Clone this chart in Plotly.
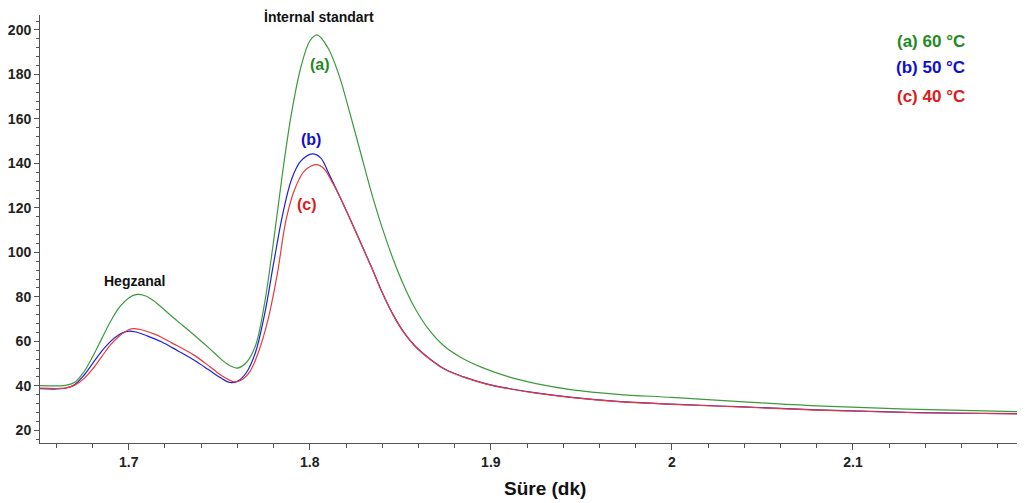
import plotly.graph_objects as go

# Retention time (min) and detector response for each temperature
x_a = [1.651, 1.665, 1.670, 1.675, 1.680, 1.685, 1.690, 1.695, 1.700, 1.704, 1.709, 1.715,
       1.722, 1.730, 1.738, 1.745, 1.751, 1.756, 1.760, 1.765, 1.770, 1.775, 1.780, 1.785,
       1.790, 1.795, 1.800, 1.804, 1.810, 1.816, 1.822, 1.828, 1.834, 1.840, 1.846, 1.852,
       1.858, 1.866, 1.874, 1.884, 1.895, 1.910, 1.925, 1.945, 1.970, 2.000, 2.040, 2.080,
       2.130, 2.195]
y_a = [40.1, 40.2, 41.5, 46.0, 53.0, 61.0, 69.0, 75.5, 79.5, 81.0, 80.5, 77.5,
       72.5, 67.0, 61.5, 56.5, 52.0, 49.0, 48.0, 50.5, 58.0, 77.0, 105.0, 136.0,
       163.0, 183.0, 195.0, 197.8, 192.0, 180.0, 163.0, 145.0, 127.0, 111.0, 97.0, 85.0,
       75.0, 65.0, 58.0, 52.5, 48.3, 44.0, 41.0, 38.2, 36.2, 34.8, 32.8, 31.0,
       29.5, 28.3]

x_b = [1.651, 1.665, 1.670, 1.675, 1.680, 1.685, 1.690, 1.695, 1.699, 1.704, 1.710, 1.718,
       1.727, 1.736, 1.744, 1.750, 1.756, 1.760, 1.765, 1.770, 1.775, 1.780, 1.785, 1.790,
       1.795, 1.8015, 1.806, 1.811, 1.816, 1.822, 1.828, 1.834, 1.840, 1.846, 1.852, 1.858,
       1.866, 1.875, 1.885, 1.897, 1.910, 1.925, 1.945, 1.970, 2.000, 2.040, 2.080, 2.130,
       2.195]
y_b = [38.7, 38.9, 40.5, 44.5, 50.0, 55.5, 60.0, 63.2, 64.5, 64.2, 62.5, 59.8,
       55.8, 51.6, 47.3, 44.0, 41.5, 42.0, 46.0, 55.0, 72.0, 95.0, 117.0, 133.0,
       141.0, 144.3, 142.5, 134.5, 126.0, 115.5, 104.5, 93.5, 82.0, 72.0, 64.0, 58.0,
       52.3, 47.3, 44.0, 41.0, 38.8, 36.8, 34.8, 33.0, 31.8, 30.5, 29.2, 28.1,
       27.5]

x_c = [1.651, 1.665, 1.670, 1.675, 1.680, 1.685, 1.690, 1.695, 1.700, 1.703, 1.708, 1.715,
       1.724, 1.736, 1.745, 1.752, 1.758, 1.762, 1.767, 1.772, 1.777, 1.782, 1.787, 1.792,
       1.797, 1.8035, 1.808, 1.8114, 1.816, 1.822, 1.828, 1.834, 1.840, 1.846, 1.852, 1.858,
       1.866, 1.875, 1.885, 1.897, 1.910, 1.925, 1.945, 1.970, 2.000, 2.040, 2.080, 2.130,
       2.195]
y_c = [39.0, 39.0, 40.2, 43.0, 47.5, 53.0, 58.5, 62.5, 65.2, 65.7, 65.0, 63.0,
       59.2, 53.8, 48.5, 44.2, 41.8, 42.5, 46.5, 56.0, 70.0, 90.0, 115.0, 129.0,
       136.5, 139.4, 137.5, 133.0, 126.0, 115.4, 104.4, 93.4, 81.9, 71.9, 63.9, 57.9,
       52.2, 47.2, 43.9, 40.9, 38.7, 36.7, 34.7, 32.9, 31.7, 30.4, 29.1, 28.0,
       27.4]

series_names = ["(a) 60 °C", "(b) 50 °C", "(c) 40 °C"]
line_colors = ["#3c9a3c", "#2020d8", "#e83a3a"]
text_colors = ["#1f8a1f", "#1010cc", "#dd1a1a"]

x_ticks = [1.7, 1.8, 1.9, 2.0, 2.1]
x_tick_labels = ["1.7", "1.8", "1.9", "2", "2.1"]
y_ticks = [20, 40, 60, 80, 100, 120, 140, 160, 180, 200]
x_title = "Süre (dk)"

font_fam = "Liberation Sans, Arial, sans-serif"

fig = go.Figure()
for xs, ys, nm, col in zip([x_a, x_b, x_c], [y_a, y_b, y_c], series_names, line_colors):
    fig.add_trace(go.Scatter(x=xs, y=ys, mode="lines", name=nm,
                             line=dict(color=col, width=1.2, shape="spline", smoothing=1.0)))

anns = [
    dict(x=1.805, y=205.8, text="İnternal standart", color="#111111", size=14),
    dict(x=1.7032, y=87.2, text="Hegzanal", color="#111111", size=14),
    dict(x=1.8054, y=184.3, text="(a)", color=text_colors[0], size=16),
    dict(x=1.8004, y=150.6, text="(b)", color=text_colors[1], size=16),
    dict(x=1.7987, y=121.4, text="(c)", color=text_colors[2], size=16),
    dict(x=2.143, y=194.6, text=series_names[0], color=text_colors[0], size=17),
    dict(x=2.143, y=182.9, text=series_names[1], color=text_colors[1], size=17),
    dict(x=2.143, y=169.9, text=series_names[2], color=text_colors[2], size=17),
]
for a in anns:
    fig.add_annotation(x=a["x"], y=a["y"], xref="x", yref="y", text=a["text"], showarrow=False,
                       font=dict(family=font_fam, size=a["size"], color=a["color"], weight="bold"))

# x-axis title, placed slightly right of centre as in the original
fig.add_annotation(x=0.5127, y=0, xref="paper", yref="paper", yanchor="middle", yshift=-45,
                   text=x_title, showarrow=False,
                   font=dict(family=font_fam, size=19, color="#111111", weight="bold"))

fig.update_layout(
    width=1017, height=495,
    margin=dict(l=32, r=0, t=7, b=60),
    paper_bgcolor="white", plot_bgcolor="white",
    showlegend=False,
    xaxis=dict(range=[1.651, 2.195], tickvals=x_ticks, ticktext=x_tick_labels,
               showgrid=False, zeroline=False, showline=True, linecolor="#555555", linewidth=1,
               ticks="outside", ticklen=6, tickcolor="#555555",
               minor=dict(dtick=0.02, tick0=1.7, ticks="outside", ticklen=4, tickcolor="#555555"),
               tickfont=dict(family=font_fam, size=14, color="#222222", weight="bold")),
    yaxis=dict(range=[14.3, 206.7], tickvals=y_ticks,
               showgrid=False, zeroline=False, showline=True, linecolor="#555555", linewidth=1,
               ticks="outside", ticklen=5, tickcolor="#555555",
               minor=dict(dtick=4, tick0=0, ticks="outside", ticklen=3, tickcolor="#555555"),
               tickfont=dict(family=font_fam, size=14, color="#222222", weight="bold")),
)

fig.write_html("out.html")
